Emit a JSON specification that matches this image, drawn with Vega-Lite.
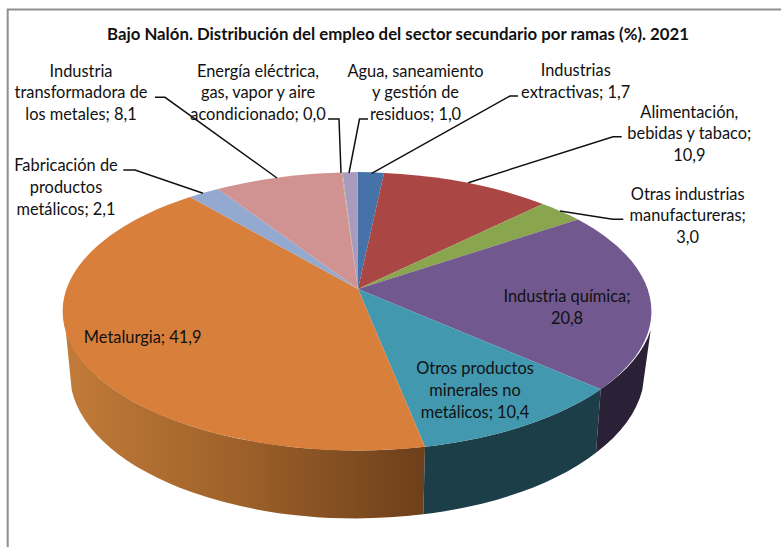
{
"$schema":"https://vega.github.io/schema/vega-lite/v6.json",
"autosize":"none",
"width":716,"height":516,
"padding":{"left":0,"top":31,"right":65,"bottom":0},
"background":"white",
"config":{"view":{"stroke":null}},
"title":{"text":"Bajo Nalón. Distribución del empleo del sector secundario por ramas (%). 2021","font":"Lato","fontSize":16.8,"fontWeight":"bold","color":"#111111","anchor":"middle","dx":40,"offset":-38},
"datasets":{"ramas":[
{"rama":"Industrias extractivas","pct":1.7,"etiqueta":"Industrias\nextractivas; 1,7"},
{"rama":"Alimentación, bebidas y tabaco","pct":10.9,"etiqueta":"Alimentación,\nbebidas y tabaco;\n10,9"},
{"rama":"Otras industrias manufactureras","pct":3.0,"etiqueta":"Otras industrias\nmanufactureras;\n3,0"},
{"rama":"Industria química","pct":20.8,"etiqueta":"Industria química;\n20,8"},
{"rama":"Otros productos minerales no metálicos","pct":10.4,"etiqueta":"Otros productos\nminerales no\nmetálicos; 10,4"},
{"rama":"Metalurgia","pct":41.9,"etiqueta":"Metalurgia; 41,9"},
{"rama":"Fabricación de productos metálicos","pct":2.1,"etiqueta":"Fabricación de\nproductos\nmetálicos; 2,1"},
{"rama":"Industria transformadora de los metales","pct":8.1,"etiqueta":"Industria\ntransformadora de\nlos metales; 8,1"},
{"rama":"Energía eléctrica, gas, vapor y aire acondicionado","pct":0.0,"etiqueta":"Energía eléctrica,\ngas, vapor y aire\nacondicionado; 0,0"},
{"rama":"Agua, saneamiento y gestión de residuos","pct":1.0,"etiqueta":"Agua, saneamiento\ny gestión de\nresiduos; 1,0"}
]},
"data":{"name":"ramas"},
"resolve":{"scale":{"shape":"independent","fill":"independent"}},
"layer":[
{"data":{"values":[{"elemento":"marco"}]},
 "mark":{"type":"point","size":4,"filled":false,"opacity":1,"stroke":"#8f8f8f","strokeWidth":2,"shape":"M-350.3,258 L-350.3,-279.5 L423,-279.5"}},
{"transform":[{"filter":"datum.rama === 'Metalurgia'"}],
 "mark":{"type":"point","size":4,"filled":true,"opacity":1,"strokeWidth":0,
  "fill":{"gradient":"linear","x1":0,"y1":0,"x2":1,"y2":0,"stops":[{"offset":0,"color":"#c27b39"},{"offset":0.5,"color":"#9c6029"},{"offset":1,"color":"#6d3f1b"}]},
  "shape":"M-292.3,41 A294.5,139 0 0 0 67,157.7 L65.3,225.3 A286,145 0 0 1 -286.3,101 Z"}},
{"transform":[{"filter":"datum.rama === 'Otros productos minerales no metálicos'"}],
 "mark":{"type":"point","size":4,"filled":true,"opacity":1,"strokeWidth":0,"fill":"#1c3e48",
  "shape":"M67,157.7 A294.5,139 0 0 0 242.7,100.3 L238,163.7 A286,145 0 0 1 65.3,225.3 Z"}},
{"transform":[{"filter":"datum.rama === 'Industria química'"}],
 "mark":{"type":"point","size":4,"filled":true,"opacity":1,"strokeWidth":0,"fill":"#2b2137",
  "shape":"M242.7,100.3 A294.5,139 0 0 0 292.7,41 L284.3,101 A286,145 0 0 1 238,163.7 Z"}},
{"mark":{"type":"point","size":4,"filled":true,"opacity":1,"strokeWidth":0},
 "encoding":{
  "fill":{"field":"rama","type":"nominal","legend":null,"scale":{
    "domain":["Industrias extractivas","Alimentación, bebidas y tabaco","Otras industrias manufactureras","Industria química","Otros productos minerales no metálicos","Metalurgia","Fabricación de productos metálicos","Industria transformadora de los metales","Energía eléctrica, gas, vapor y aire acondicionado","Agua, saneamiento y gestión de residuos"],
    "range":["#4572a7","#aa4643","#89a54e","#71588f","#4198af","#d87f3c","#93a9cf","#d19392","#b9a98e","#a99bbd"]}},
  "shape":{"field":"rama","type":"nominal","legend":null,"scale":{
    "domain":["Industrias extractivas","Alimentación, bebidas y tabaco","Otras industrias manufactureras","Industria química","Otros productos minerales no metálicos","Metalurgia","Fabricación de productos metálicos","Industria transformadora de los metales","Energía eléctrica, gas, vapor y aire acondicionado","Agua, saneamiento y gestión de residuos"],
    "range":[
     "M0,0 L-0.3,-117 A294.5,139 0 0 1 26,-116 Z",
     "M0,0 L26,-116 A294.5,139 0 0 1 184.7,-85 Z",
     "M0,0 L184.7,-85 A294.5,139 0 0 1 220,-69.5 Z",
     "M0,0 L220,-69.5 A294.5,139 0 0 1 242.7,100.3 Z",
     "M0,0 L242.7,100.3 A294.5,139 0 0 1 67,157.7 Z",
     "M0,0 L67,157.7 A294.5,139 0 0 1 -168,-92 Z",
     "M0,0 L-168,-92 A294.5,139 0 0 1 -140,-100 Z",
     "M0,0 L-140,-100 A294.5,139 0 0 1 -16.5,-116.5 Z",
     "M0,0 L-16.5,-116.5 L-15.5,-116.5 Z",
     "M0,0 L-15.5,-116.5 A294.5,139 0 0 1 -0.3,-117 Z"]}}
 }},
{"transform":[{"filter":"datum.rama !== 'Metalurgia' && datum.rama !== 'Industria química' && datum.rama !== 'Otros productos minerales no metálicos'"}],
 "mark":{"type":"point","size":4,"filled":false,"opacity":1,"stroke":"#111111","strokeWidth":1.5},
 "encoding":{
  "shape":{"field":"rama","type":"nominal","legend":null,"scale":{
    "domain":["Industria transformadora de los metales","Fabricación de productos metálicos","Energía eléctrica, gas, vapor y aire acondicionado","Agua, saneamiento y gestión de residuos","Industrias extractivas","Alimentación, bebidas y tabaco","Otras industrias manufactureras"],
    "range":[
     "M-203,-191.7 L-193,-191.7 L-81,-111",
     "M-234.7,-119 L-223,-119 L-155,-95.7",
     "M-30,-170 L-19,-170 L-17,-116",
     "M10,-170 L1.5,-170 L-9,-116",
     "M160,-193 L152,-193 L13.7,-115.7",
     "M263.7,-152.3 L255,-152.3 L110.3,-106.3",
     "M265.3,-69.7 L254.7,-69.7 L202,-78"]}}
 }},
{"mark":{"type":"text","font":"Lato","fontSize":16.4,"lineBreak":"\n","lineHeight":21.8,"align":"center","baseline":"middle","color":"#111111"},
 "encoding":{
  "text":{"field":"etiqueta","type":"nominal"},
  "x":{"field":"pct","type":"quantitative","axis":null,"scale":{"zero":false,"nice":false,"domain":[0,1,1.7,2.1,3,8.1,10.4,10.9,20.8,41.9],"range":[258,415.5,575.7,66,687.7,81,475,689.3,567,142.7]}},
  "y":{"field":"pct","type":"quantitative","axis":null,"scale":{"zero":false,"nice":false,"domain":[0,1,1.7,2.1,3,8.1,10.4,10.9,20.8,41.9],"range":[40.7,40.7,40,135,163.7,40.7,338,81.7,266,306.7]}}
 }}
]
}
